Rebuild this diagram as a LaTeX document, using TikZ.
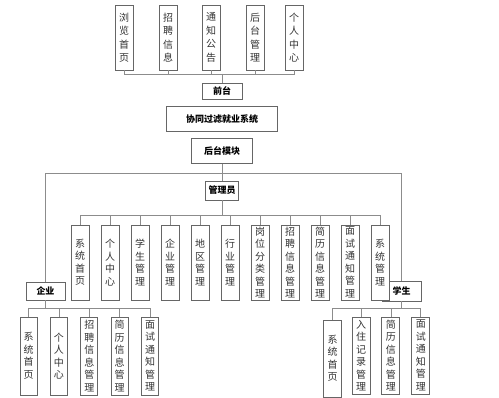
\documentclass[tikz,border=0pt]{standalone}
\usepackage{fontspec}
\newfontfamily\cjk{Noto Sans CJK SC}
\usetikzlibrary{positioning}

\begin{document}
\begin{tikzpicture}[x=1pt, y=-1pt,
  vbox/.style={rectangle, draw=black!60, line width=0.9pt, fill=white,
               minimum width=18pt, inner sep=0pt, align=center,
               font=\cjk\fontsize{10}{12.5}\selectfont, text=black!80},
  hbox/.style={rectangle, draw=black!60, line width=0.9pt, fill=white,
               inner sep=0pt, font=\cjk\bfseries\fontsize{9}{11}\selectfont},
  link/.style={draw=black!45, line width=0.8pt}
]
  \useasboundingbox (0,0) rectangle (499,398);

  % front end
  \node[vbox, minimum height=65pt, font=\cjk\fontsize{10}{13.5}\selectfont] (browse) at (124,37.5) {浏\\览\\首\\页};
  \node[vbox, minimum height=65pt, font=\cjk\fontsize{10}{13.5}\selectfont] (jobinfo) at (168,37.5) {招\\聘\\信\\息};
  \node[vbox, minimum height=65pt, font=\cjk\fontsize{10}{13.5}\selectfont] (notice) at (211,37.5) {通\\知\\公\\告};
  \node[vbox, minimum height=65pt, font=\cjk\fontsize{10}{13.5}\selectfont] (backmgr) at (255,37.5) {后\\台\\管\\理};
  \node[vbox, minimum height=65pt, font=\cjk\fontsize{10}{13.5}\selectfont] (mine) at (294,37.5) {个\\人\\中\\心};

  \node[hbox, minimum width=40pt, minimum height=16pt] (front) at (222,91) {前台};
  \node[hbox, minimum width=111pt, minimum height=25pt, below=7pt of front] (cfsys) {协同过滤就业系统};
  \node[hbox, minimum width=61pt, minimum height=25pt, below=6pt of cfsys] (backend) {后台模块};
  \node[hbox, minimum width=33pt, minimum height=19pt] (admin) at (222,190.5) {管理员};
  \node[hbox, minimum width=39pt, minimum height=18pt] (company) at (45.5,291) {企业};
  \node[hbox, minimum width=39pt, minimum height=20pt] (student) at (401.5,291) {学生};

  \coordinate (topbus) at (222,74);
  \coordinate (mainbus) at (222,173);
  \coordinate (adminbus) at (222,215);
  \coordinate (companybus) at (45.5,308);
  \coordinate (studentbus) at (401.5,308);

  \foreach \n in {browse, jobinfo, notice, backmgr, mine}
    \draw[link] (\n.south) |- (topbus);
  \draw[link] (topbus) -- (front.north);
  \draw[link] (backend.south) -- (mainbus);
  \draw[link] (mainbus) -| (company.north);
  \draw[link] (mainbus) -| (student.north);
  \draw[link] (mainbus) -- (admin.north);

  % admin
  \node[vbox, minimum height=75pt] (ad1) at (80,262.5) {系\\统\\首\\页};
  \node[vbox, minimum height=75pt, right=11.1pt of ad1] (ad2) {个\\人\\中\\心};
  \node[vbox, minimum height=75pt, right=11.1pt of ad2] (ad3) {学\\生\\管\\理};
  \node[vbox, minimum height=75pt, right=11.1pt of ad3] (ad4) {企\\业\\管\\理};
  \node[vbox, minimum height=75pt, right=11.1pt of ad4] (ad5) {地\\区\\管\\理};
  \node[vbox, minimum height=75pt, right=11.1pt of ad5] (ad6) {行\\业\\管\\理};
  \node[vbox, minimum height=75pt, right=11.1pt of ad6] (ad7) {岗\\位\\分\\类\\管\\理};
  \node[vbox, minimum height=75pt, right=11.1pt of ad7] (ad8) {招\\聘\\信\\息\\管\\理};
  \node[vbox, minimum height=75pt, right=11.1pt of ad8] (ad9) {简\\历\\信\\息\\管\\理};
  \node[vbox, minimum height=75pt, right=11.1pt of ad9] (ad10) {面\\试\\通\\知\\管\\理};
  \node[vbox, minimum height=75pt, right=11.1pt of ad10] (ad11) {系\\统\\管\\理};

  \draw[link] (admin.south) -- (adminbus);
  \foreach \n in {1,...,11}
    \draw[link] (adminbus) -| (ad\n.north);

  % company
  \node[vbox, minimum width=17pt, minimum height=78pt] (co1) at (28.5,356) {系\\统\\首\\页};
  \node[vbox, minimum width=17pt, minimum height=78pt, right=12.5pt of co1] (co2) {个\\人\\中\\心};
  \node[vbox, minimum width=17pt, minimum height=78pt, right=12.5pt of co2] (co3) {招\\聘\\信\\息\\管\\理};
  \node[vbox, minimum width=17pt, minimum height=78pt, right=12.5pt of co3] (co4) {简\\历\\信\\息\\管\\理};
  \node[vbox, minimum width=17pt, minimum height=78pt, right=12.5pt of co4] (co5) {面\\试\\通\\知\\管\\理};

  \draw[link] (company.south) -- (companybus);
  \foreach \n in {1,...,5}
    \draw[link] (companybus) -| (co\n.north);

  % student
  \node[vbox, minimum height=77pt] (st1) at (332.5,358.5) {系\\统\\首\\页};
  \node[vbox, minimum height=77pt] (st2) at (361,355.5) {入\\住\\记\\录\\管\\理};
  \node[vbox, minimum height=77pt, right=11pt of st2] (st3) {简\\历\\信\\息\\管\\理};
  \node[vbox, minimum height=77pt, right=11pt of st3] (st4) {面\\试\\通\\知\\管\\理};

  \draw[link] (student.south) -- (studentbus);
  \foreach \n in {1,...,4}
    \draw[link] (studentbus) -| (st\n.north);
\end{tikzpicture}
\end{document}
